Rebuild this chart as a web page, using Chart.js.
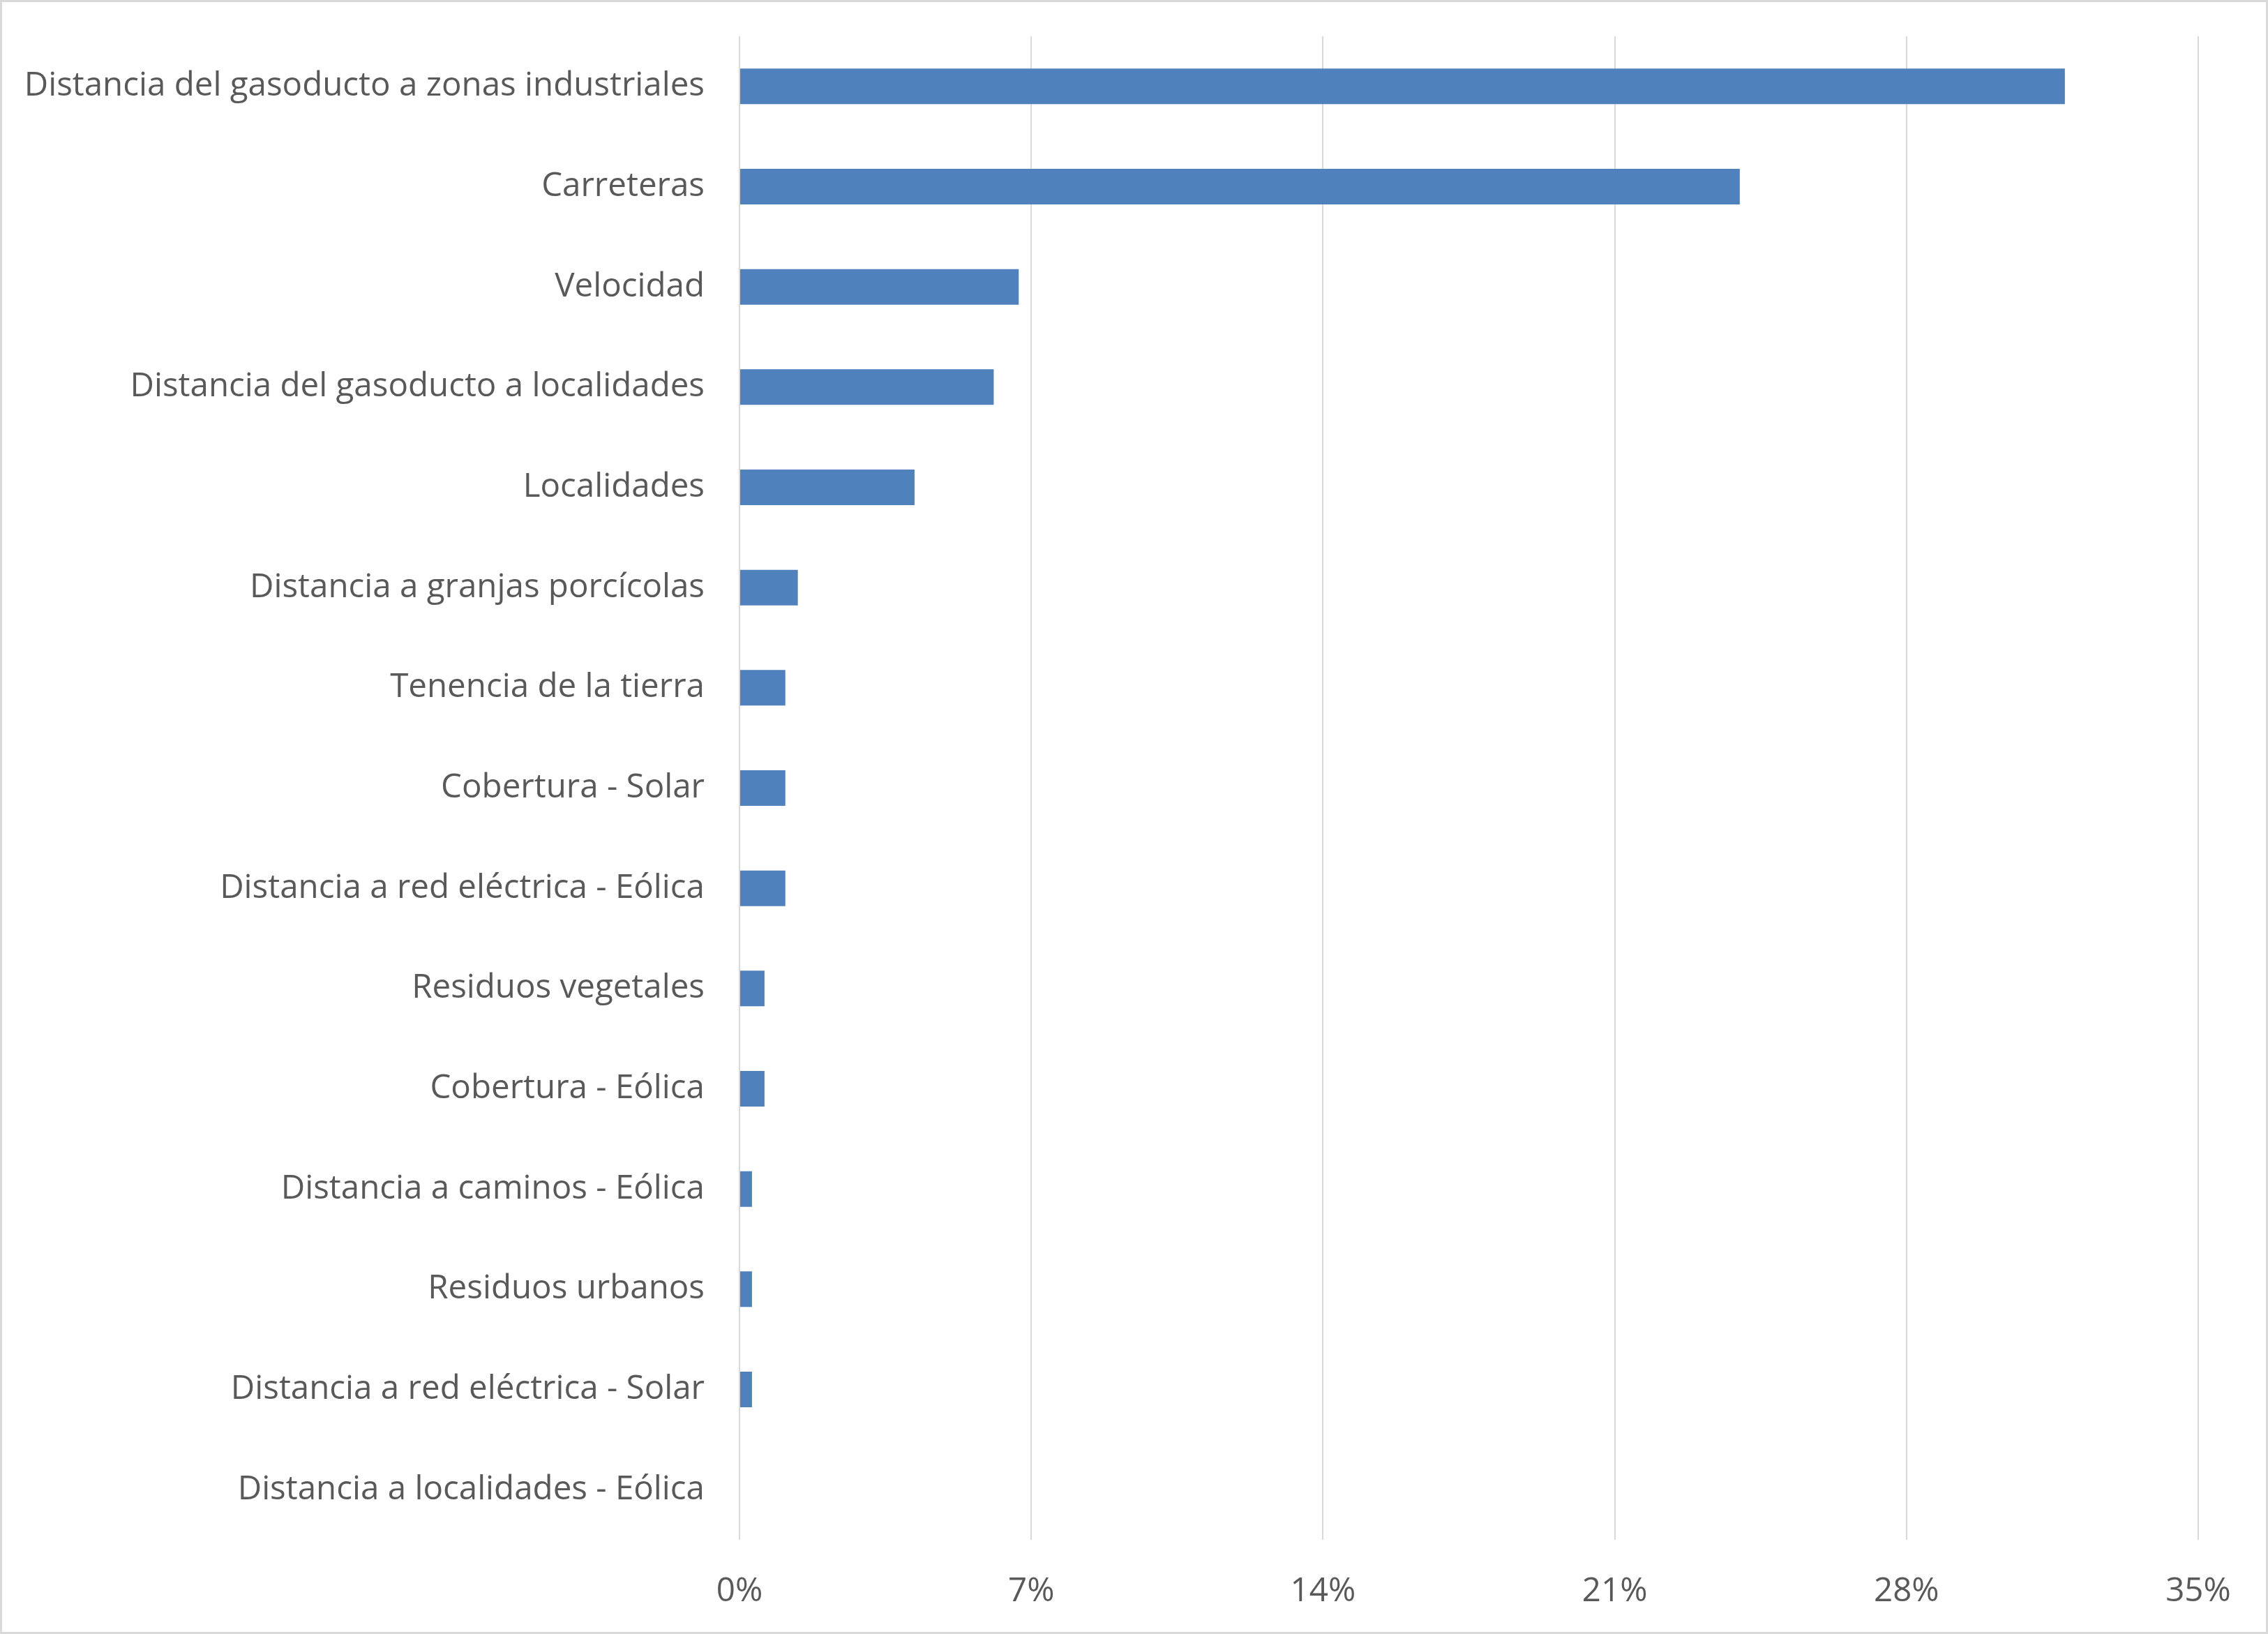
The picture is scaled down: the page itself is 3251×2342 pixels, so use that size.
<!DOCTYPE html>
<html>
<head>
<meta charset="utf-8">
<script src="https://cdn.jsdelivr.net/npm/chart.js@4/dist/chart.umd.min.js"></script>
<style>
  html, body { margin: 0; padding: 0; background: #ffffff; }
  #wrap { width: 3251px; height: 2342px; position: relative; }
  canvas { display: block; }
</style>
</head>
<body>
<div id="wrap"><canvas id="c" width="3251" height="2342"></canvas></div>
<script>
const categories = [
  "Distancia del gasoducto a zonas industriales",
  "Carreteras",
  "Velocidad",
  "Distancia del gasoducto a localidades",
  "Localidades",
  "Distancia a granjas porcícolas",
  "Tenencia de la tierra",
  "Cobertura - Solar",
  "Distancia a red eléctrica - Eólica",
  "Residuos vegetales",
  "Cobertura - Eólica",
  "Distancia a caminos - Eólica",
  "Residuos urbanos",
  "Distancia a red eléctrica - Solar",
  "Distancia a localidades - Eólica"
];
const values = [31.8, 24.0, 6.7, 6.1, 4.2, 1.4, 1.1, 1.1, 1.1, 0.6, 0.6, 0.3, 0.3, 0.3, 0];
const tickValues = [0, 7, 14, 21, 28, 35];
const tickLabels = ["0%", "7%", "14%", "21%", "28%", "35%"];

const FONT = "'Open Sans', 'Noto Sans', sans-serif";
const TEXT = "#595959";
const GRID = "#d9d9d9";

const borderPlugin = {
  id: 'outerBorder',
  afterDraw(chart) {
    const ctx = chart.ctx;
    ctx.save();
    ctx.strokeStyle = GRID;
    ctx.lineWidth = 3;
    ctx.strokeRect(1.5, 1.5, chart.width - 3, chart.height - 3);
    ctx.restore();
  }
};

new Chart(document.getElementById('c'), {
  type: 'bar',
  data: {
    labels: categories,
    datasets: [{
      data: values,
      backgroundColor: '#4f81bd',
      borderWidth: 0,
      barPercentage: 0.355,
      categoryPercentage: 1.0
    }]
  },
  options: {
    indexAxis: 'y',
    responsive: false,
    animation: false,
    devicePixelRatio: 1,
    layout: { padding: { top: 52, right: 100, left: 0, bottom: 0 } },
    plugins: { legend: { display: false }, tooltip: { enabled: false } },
    scales: {
      x: {
        min: 0, max: 35,
        afterBuildTicks(scale) { scale.ticks = tickValues.map(v => ({ value: v })); },
        afterFit(scale) { scale.height = 2342 - 2207; },
        grid: { color: GRID, lineWidth: 2, drawTicks: false },
        border: { display: false },
        ticks: {
          color: TEXT,
          font: { family: FONT, size: 47.5 },
          padding: 46,
          callback: (v) => tickLabels[tickValues.indexOf(v)]
        }
      },
      y: {
        afterFit(scale) { scale.width = 1060; scale.paddingTop = 0; scale.paddingBottom = 0; },
        grid: { display: false, drawTicks: false },
        border: { display: false },
        ticks: {
          color: TEXT,
          font: { family: FONT, size: 47.5 },
          padding: 50,
          autoSkip: false
        }
      }
    }
  },
  plugins: [borderPlugin]
});
</script>
</body>
</html>
